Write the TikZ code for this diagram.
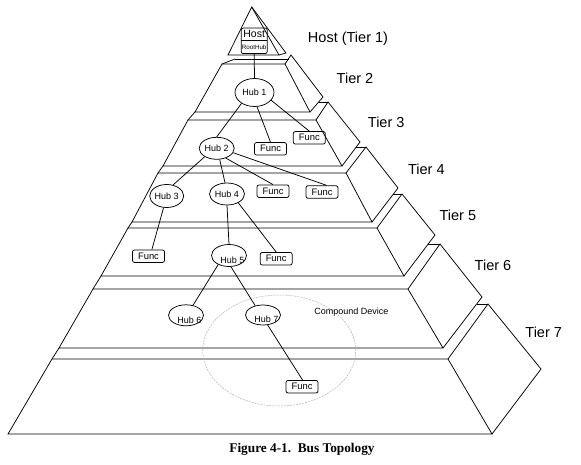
\documentclass[tikz,border=0pt]{standalone}
\usepackage{fontspec}
\setmainfont{Liberation Serif}
\setsansfont{Liberation Sans}
\usetikzlibrary{shapes.geometric,shapes.multipart}

\begin{document}
\begin{tikzpicture}[x=1pt, y=-1pt, line width=0.75pt,
        hub/.style={draw, ellipse, inner sep=0pt, minimum width=35pt, minimum height=22pt, font=\sffamily\fontsize{9}{10}\selectfont},
        hubtext/.style={font=\sffamily\fontsize{9}{10}\selectfont, inner sep=0pt, xshift=3.5pt, yshift=-4.7pt},
        func/.style={draw, rounded corners=2pt, inner sep=0pt, minimum width=32pt, minimum height=12.5pt, font=\sffamily\fontsize{9.4}{10}\selectfont},
        tier/.style={font=\sffamily\fontsize{14.5}{16}\selectfont}]
        \useasboundingbox (0,0) rectangle (581,465);

        % Host triangle
        \draw (251.7,7) -- (228,55) -- (279,55) -- cycle;
        \draw (251.7,7) -- (286,53) -- (279,55);
        \draw (235,59) -- (288.5,59);

        % Tiers 2-7: front face, side face, top strip
        \foreach \tl/\tr/\yt/\bl/\br/\yb/\px/\py/\qx/\qy/\sx/\sy/\hx in {
                222/285/64/195/310/112/291/55/323/97/235/59/291,
                188/316/120/163/342/166/328/102/360/142/195/112/318.7,
                158/346/173/132/372/222/366/147/398/188/163/166/356.3,
                128/377/228/101/404/276/402/194/435/235/132/222/393.4,
                93/408/289/59/443/348/440/244/482/297/101/276/428.2,
                52/448/359/8/492/434/488/304/541/369/59/348/476.6} {
            \draw (\tl,\yt) -- (\tr,\yt) -- (\br,\yb) -- (\bl,\yb) -- cycle;
            \draw (\tr,\yt) -- (\px,\py) -- (\qx,\qy) -- (\br,\yb);
            \draw (\tl,\yt) -- (\sx,\sy);
            \draw (\hx,\py) -- (\px,\py);
        }

        % Tier labels
        \foreach \x/\y/\txt [count=\i] in {348/38.3/{Host (Tier 1)}, 355/78.3/{Tier 2},
                386.2/122.7/{Tier 3}, 426.4/169.3/{Tier 4}, 457.9/215.3/{Tier 5},
                493/265/{Tier 6}, 543.7/332.7/{Tier 7}} {
            \node[tier] (tier\i) at (\x,\y) {\txt};
        }

        % Host with root hub
        \node[draw, rectangle split, rectangle split parts=2, rounded corners=2pt, inner xsep=0.5pt, inner ysep=0.8pt,
            minimum width=26pt, anchor=north, font=\sffamily\fontsize{10.5}{11}\selectfont] (host) at (254.2,27.7)
            {\rule[-1.5pt]{0pt}{10pt}Host \nodepart{two}\fontsize{6.2}{7}\selectfont\rule[-3pt]{0pt}{10.8pt}RootHub};

        % Hubs
        \node[hub, minimum width=39pt, minimum height=28pt] (hubone) at (254.5,92.5) {Hub 1};
        \node[hub] (hubtwo) at (216.7,148.3) {Hub 2};
        \node[hub, minimum width=33pt, minimum height=23pt] (hubthree) at (166.7,196) {Hub 3};
        \node[hub] (hubfour) at (227,194) {Hub 4};
        \node[hub, label={[hubtext]center:Hub 5}] (hubfive) at (229,255.5) {};
        \node[hub, minimum height=21pt, label={[hubtext]center:Hub 6}] (hubsix) at (186,315.3) {};
        \node[hub, minimum height=20pt, label={[hubtext]center:Hub 7}] (hubseven) at (263,315) {};

        % Functions
        \foreach \name/\x/\y in {fthreel/270.5/148.8, fthreer/309.3/137.8, ffourl/273/191.2, ffourr/322/192,
                ffivel/148.5/256.2, ffiver/276.2/258.7, fseven/302/386.7} {
            \node[func] (\name) at (\x,\y) {Func};
        }

        % Compound device
        \draw[gray!60, line width=0.5pt, dash pattern=on 2pt off 1pt] (279.2,350.5) ellipse (76.5pt and 55.5pt);
        \node[font=\sffamily\fontsize{9}{10}\selectfont] (compound) at (351.3,311.7) {Compound Device};

        % Bus connections
        \foreach \a/\b in {host.south/hubone.north, hubone.220/hubtwo.north, hubone.-80/fthreel.north,
                hubone.-25/fthreer.north, hubtwo.215/hubthree.60, hubtwo.-75/hubfour.100,
                hubtwo.-47/ffourl.north, hubtwo.-15/ffourr.55, hubthree.-105/ffivel.63,
                hubfour.south/hubfive.north, hubfour.-38/ffiver.north, hubfive.220/hubsix.55,
                hubfive.-80/hubseven.130, hubseven.-65/fseven.85} {
            \draw (\a) -- (\b);
        }

        % Caption
        \node[font=\bfseries\fontsize{13.3}{15}\selectfont] (caption) at (302,449) {Figure 4-1.\ \ Bus Topology};
    \end{tikzpicture}
\end{document}
